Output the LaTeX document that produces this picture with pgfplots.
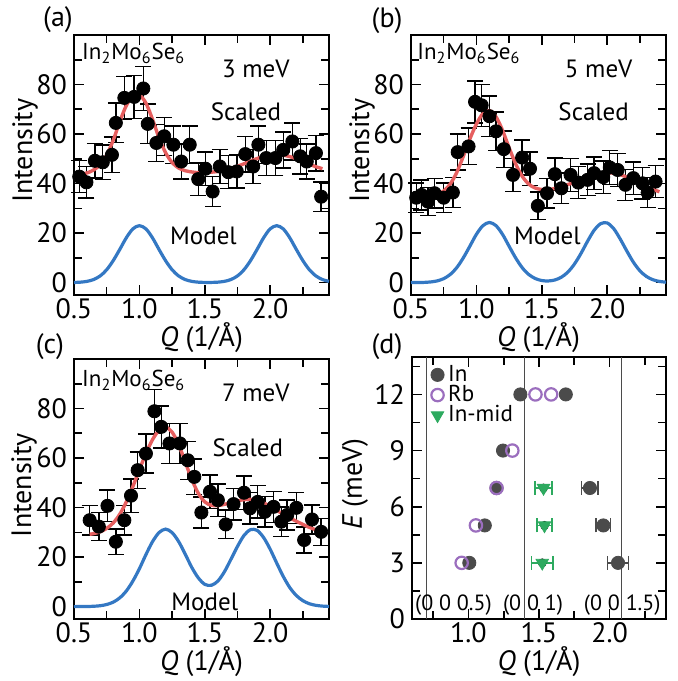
\documentclass[border=0pt]{standalone}
\usepackage{fontspec}
\setmainfont{PT Sans}
\usepackage{pgfplots}
\pgfplotsset{compat=1.18}
\definecolor{fitred}{RGB}{230,95,95}
\definecolor{modelblue}{RGB}{52,120,195}
\definecolor{ingray}{RGB}{75,75,75}
\definecolor{rbpurple}{RGB}{155,110,190}
\definecolor{midgreen}{RGB}{45,170,95}
\newcommand{\ft}{\fontsize{14}{16}\selectfont}
\newcommand{\fs}{\fontsize{12.5}{14}\selectfont}
\newcommand{\fsm}{\fontsize{11.5}{13}\selectfont}
\newcommand{\chem}{In\textsubscript{2}Mo\textsubscript{6}Se\textsubscript{6}}
\pgfplotsset{
  base/.style={scale only axis, width=127.5pt, height=130pt,
    tick align=inside, major tick length=5pt, minor tick length=4pt,
    axis line style={line width=1pt}, every tick/.style={line width=0.8pt, black},
    tick label style={font=\ft},
    xticklabel style={inner sep=1.5pt},
    /pgf/number format/assume math mode=true,
    xlabel={\textit{Q} (1/Å)},
    every axis x label/.style={at={(axis description cs:0.5,0)}, anchor=center, yshift=-21.5pt, font=\ft},
    clip=false},
  panel/.style={base, xmin=0.5, xmax=2.45, ymin=-5, ymax=100,
    xtick={0.5,1.0,1.5,2.0}, xticklabels={0.5,1.0,1.5,2.0},
    minor xtick={0.75,1.25,1.75,2.25},
    ytick={0,20,40,60,80}, minor ytick={10,30,50,70,90},
    ylabel=Intensity},
  dat/.style={only marks, mark=*, mark size=3.3pt, black,
    error bars/.cd, y dir=both, y explicit, error mark=|,
    error bar style={line width=0.7pt, black},
    error mark options={line width=0.7pt, mark size=4pt, black}},
  fit/.style={no marks, fitred, line width=1.7pt, smooth},
  model/.style={no marks, modelblue, line width=1.6pt, smooth},
}
\begin{document}
\begin{tikzpicture}
\useasboundingbox (0,0) rectangle (338.5pt,340.5pt);
% ---------------- (a)
\begin{axis}[panel, at={(37pt,193pt)}, anchor=south west,
  every axis y label/.style={at={(axis description cs:-0.192,0.555)}, rotate=90, anchor=center, font=\ft}]
\addplot[model] coordinates {(0.50,0.06)(0.55,0.19)(0.60,0.51)(0.65,1.24)(0.70,2.7)(0.75,5.2)(0.80,8.9)(0.85,13.4)(0.90,18.1)(0.95,21.7)(1.00,23)(1.05,21.7)(1.10,18.1)(1.15,13.4)(1.20,8.9)(1.25,5.2)(1.30,2.7)(1.35,1.24)(1.40,0.51)(1.45,0.19)(1.50,0.08)(1.55,0.08)(1.60,0.19)(1.65,0.51)(1.70,1.24)(1.75,2.7)(1.80,5.2)(1.85,8.9)(1.90,13.4)(1.95,18.1)(2.00,21.7)(2.05,23)(2.10,21.7)(2.15,18.1)(2.20,13.4)(2.25,8.9)(2.30,5.2)(2.35,2.7)(2.40,1.24)(2.45,0.51)};
\addplot[dat] table[x=x,y=y,y error=e] {
x y e
0.54 42.8 6.5
0.595 40.5 6.4
0.66 49.2 7.0
0.72 48.6 7.0
0.79 51.6 7.2
0.82 64.5 8.0
0.885 74.6 8.6
0.96 75.0 8.7
1.03 78.4 8.9
1.064 64.1 8.0
1.13 56.4 7.5
1.19 59.1 7.7
1.26 55.7 7.5
1.32 48.9 7.0
1.385 55.7 7.5
1.45 41.8 6.5
1.505 46.0 6.8
1.56 36.8 6.1
1.615 46.9 6.8
1.68 44.6 6.7
1.745 44.9 6.7
1.81 51.9 7.2
1.87 46.9 6.8
1.91 55.7 7.5
1.97 50.3 7.1
2.04 50.3 7.1
2.10 53.6 7.3
2.17 57.0 7.5
2.23 51.0 7.1
2.28 48.9 7.0
2.35 52.3 7.2
2.39 34.7 5.9
};
\addplot[fit] coordinates {(0.50,43.6)(0.55,43.8)(0.60,44.3)(0.65,45.5)(0.70,47.6)(0.75,51.5)(0.80,57.5)(0.85,65.0)(0.90,71.5)(0.95,75.3)(1.00,75.8)(1.05,72.5)(1.10,66.0)(1.15,58.5)(1.20,52.5)(1.25,48.5)(1.30,46.3)(1.35,45.2)(1.40,44.7)(1.45,44.4)(1.50,44.4)(1.55,44.6)(1.60,44.9)(1.65,45.4)(1.70,46.1)(1.75,47.0)(1.80,48.0)(1.85,49.1)(1.90,50.1)(1.95,50.9)(2.00,51.5)(2.05,51.7)(2.10,51.5)(2.15,50.9)(2.20,50.0)(2.25,48.9)(2.30,47.8)(2.35,46.8)(2.40,46.0)};
\node[anchor=west, font=\fsm, inner sep=0pt] at (axis cs:0.56,92.5) {\chem};
\node[font=\fs] at (axis cs:1.89,86.5) {3 meV};
\node[font=\fs] at (axis cs:1.815,69) {Scaled};
\node[font=\fs] at (axis cs:1.49,19) {Model};
\end{axis}
\node[font=\ft] at (29pt,330.5pt) {(a)};
% ---------------- (b)
\begin{axis}[panel, at={(205.5pt,193pt)}, anchor=south west,
  every axis y label/.style={at={(axis description cs:-0.192,0.555)}, rotate=90, anchor=center, font=\ft}]
\addplot[model] coordinates {(0.50,0.01)(0.55,0.03)(0.60,0.09)(0.65,0.27)(0.70,0.69)(0.75,1.6)(0.80,3.29)(0.85,6.06)(0.90,10.0)(0.95,14.7)(1.00,19.5)(1.05,23.0)(1.10,24.3)(1.15,23.0)(1.20,19.5)(1.25,14.7)(1.30,10.0)(1.35,6.06)(1.40,3.3)(1.45,1.65)(1.50,0.84)(1.55,0.67)(1.60,1.07)(1.65,2.19)(1.70,4.27)(1.75,7.5)(1.80,11.8)(1.85,16.7)(1.90,21.1)(1.95,23.8)(2.00,24.1)(2.05,21.8)(2.10,17.6)(2.15,12.8)(2.20,8.3)(2.25,4.8)(2.30,2.5)(2.35,1.16)(2.40,0.48)(2.45,0.18)};
\addplot[dat] table[x=x,y=y,y error=e] {
x y e
0.54 34.3 5.9
0.58 35.4 6.0
0.63 32.7 5.7
0.68 36.1 6.0
0.75 34.3 5.9
0.82 36.4 6.0
0.857 52.7 7.3
0.94 55.0 7.4
0.99 73.0 8.5
1.04 71.6 8.5
1.10 67.2 8.2
1.15 61.1 7.8
1.21 53.9 7.3
1.28 43.5 6.6
1.35 50.5 7.1
1.41 46.0 6.8
1.47 31.0 5.6
1.54 36.1 6.0
1.60 43.8 6.6
1.65 38.1 6.2
1.72 43.5 6.6
1.78 40.4 6.4
1.85 41.5 6.4
1.90 44.2 6.6
1.97 42.6 6.5
2.02 46.5 6.8
2.08 45.5 6.7
2.14 39.5 6.3
2.20 42.2 6.5
2.27 40.1 6.3
2.31 36.4 6.0
2.37 40.8 6.4
};
\addplot[fit] coordinates {(0.50,34.0)(0.55,34.1)(0.60,34.3)(0.65,34.7)(0.70,35.5)(0.75,37.0)(0.80,39.8)(0.85,44.5)(0.90,51.0)(0.95,58.0)(1.00,64.0)(1.05,68.3)(1.10,69.5)(1.15,67.0)(1.20,61.5)(1.25,54.5)(1.30,48.0)(1.35,43.0)(1.40,39.8)(1.45,38.2)(1.50,37.6)(1.55,37.6)(1.60,38.0)(1.65,38.7)(1.70,39.6)(1.75,40.6)(1.80,41.6)(1.85,42.6)(1.90,43.4)(1.95,44.0)(2.00,44.3)(2.05,44.2)(2.10,43.6)(2.15,42.6)(2.20,41.4)(2.25,40.0)(2.30,38.7)(2.35,37.6)(2.40,36.7)};
\node[anchor=west, font=\fsm, inner sep=0pt] at (axis cs:0.546,92.5) {\chem};
\node[font=\fs] at (axis cs:1.935,86.5) {5 meV};
\node[font=\fs] at (axis cs:1.897,69) {Scaled};
\node[font=\fs] at (axis cs:1.543,19) {Model};
\end{axis}
\node[font=\ft] at (193.5pt,330pt) {(b)};
% ---------------- (c)
\begin{axis}[panel, at={(37pt,31pt)}, anchor=south west,
  every axis y label/.style={at={(axis description cs:-0.196,0.515)}, rotate=90, anchor=center, font=\ft}]
\addplot[model] coordinates {(0.50,0.005)(0.55,0.02)(0.60,0.05)(0.65,0.14)(0.70,0.36)(0.75,0.85)(0.80,1.81)(0.85,3.54)(0.90,6.3)(0.95,10.3)(1.00,15.3)(1.05,21.0)(1.10,26.2)(1.15,29.9)(1.20,31.3)(1.25,29.9)(1.30,26.3)(1.35,21.25)(1.40,15.9)(1.45,11.65)(1.50,9.0)(1.55,8.6)(1.60,10.3)(1.65,14.05)(1.70,19.1)(1.75,24.3)(1.80,28.75)(1.85,31.1)(1.90,30.8)(1.95,27.9)(2.00,23.2)(2.05,17.6)(2.10,12.2)(2.15,7.7)(2.20,4.5)(2.25,2.4)(2.30,1.16)(2.35,0.52)(2.40,0.21)(2.45,0.08)};
\addplot[dat] table[x=x,y=y,y error=e] {
x y e
0.62 34.9 5.9
0.69 32.3 5.7
0.756 40.7 6.4
0.82 26.2 5.1
0.885 34.9 5.9
0.936 44.8 6.7
0.987 55.1 7.4
1.05 61.8 7.9
1.115 78.9 8.9
1.167 72.6 8.5
1.23 65.9 8.1
1.31 65.9 8.1
1.37 59.1 7.7
1.42 52.4 7.2
1.474 38.0 6.2
1.54 46.4 6.8
1.60 43.0 6.6
1.66 33.2 5.8
1.72 41.4 6.4
1.80 46.0 6.8
1.846 39.7 6.3
1.905 42.3 6.5
1.96 38.3 6.2
2.026 40.3 6.3
2.085 34.3 5.9
2.13 37.0 6.1
2.20 39.9 6.3
2.26 26.9 5.2
2.32 35.2 5.9
2.39 30.2 5.5
};
\addplot[fit] coordinates {(0.62,29.2)(0.65,29.5)(0.70,30.2)(0.75,31.6)(0.80,33.8)(0.85,37.3)(0.90,42.3)(0.95,48.5)(1.00,55.3)(1.05,61.8)(1.10,67.4)(1.15,71.2)(1.20,72.5)(1.25,70.5)(1.30,65.5)(1.35,58.5)(1.40,51.5)(1.45,45.8)(1.50,42.3)(1.55,40.9)(1.60,40.8)(1.65,41.3)(1.70,42.0)(1.75,42.7)(1.80,43.2)(1.85,43.3)(1.90,42.9)(1.95,41.9)(2.00,40.5)(2.05,38.9)(2.10,37.3)(2.15,35.8)(2.20,34.5)(2.25,33.2)(2.30,32.0)(2.35,31.0)(2.38,30.4)};
\node[anchor=west, font=\fsm, inner sep=0pt] at (axis cs:0.56,91.4) {\chem};
\node[font=\fs] at (axis cs:1.89,86.2) {7 meV};
\node[font=\fs] at (axis cs:1.83,64) {Scaled};
\node[font=\fs] at (axis cs:1.50,1.9) {Model};
\end{axis}
\node[font=\ft] at (25pt,167pt) {(c)};
% ---------------- (d)
\begin{axis}[base, at={(206pt,31pt)}, anchor=south west, width=127pt, height=131pt,
  xmin=0.6, xmax=2.4, ymin=0, ymax=14,
  xtick={1.0,1.5,2.0}, xticklabels={1.0,1.5,2.0}, minor xtick={0.75,1.25,1.75,2.25},
  ytick={0,3,6,9,12}, minor ytick={1.5,4.5,7.5,10.5,13.5},
  ylabel={\textit{E} (meV)},
  every axis y label/.style={at={(axis description cs:-0.224,0.515)}, rotate=90, anchor=center, font=\ft},
  legend style={at={(0.073,0.985)}, anchor=north west, draw=none, fill=none,
    font=\fsm, inner sep=0pt, row sep=-3.5pt},
  legend cell align=left,
  legend image code/.code={\draw[#1] plot coordinates {(0.1cm,0cm)};}]
\addplot[forget plot, no marks, ingray, line width=0.6pt] coordinates {(0.70,0)(0.70,14)};
\addplot[forget plot, no marks, ingray, line width=0.6pt] coordinates {(1.398,0)(1.398,14)};
\addplot[forget plot, no marks, ingray, line width=0.6pt] coordinates {(2.086,0)(2.086,14)};
\addplot[forget plot, only marks, mark=none, error bars/.cd, x dir=both, x explicit, error mark=|,
  error bar style={line width=0.8pt, ingray}, error mark options={line width=0.8pt, ingray, mark size=3.5pt}]
  table[x=x,y=y,x error=e] {
x y e
1.861 7 0.059
1.956 5 0.05
2.06 3 0.074
};
\addplot[forget plot, only marks, mark=none, error bars/.cd, x dir=both, x explicit, error mark=|,
  error bar style={line width=0.8pt, midgreen}, error mark options={line width=0.8pt, midgreen, mark size=3.5pt}]
  table[x=x,y=y,x error=e] {
x y e
1.532 7 0.06
1.539 5 0.055
1.523 3 0.075
};
\addplot[only marks, mark=*, mark size=3.3pt, ingray] coordinates {(1.368,12)(1.69,12)(1.245,9)(1.199,7)(1.861,7)(1.116,5)(1.956,5)(1.006,3)(2.06,3)};
\addlegendentry{In}
\addplot[only marks, mark=o, mark size=3.1pt, rbpurple, line width=1.1pt] coordinates {(1.475,12)(1.586,12)(1.311,9)(1.199,7)(1.053,5)(0.952,3)};
\addlegendentry{Rb}
\addplot[only marks, mark=triangle*, mark options={rotate=180}, mark size=3.6pt, midgreen] coordinates {(1.532,7)(1.539,5)(1.523,3)};
\addlegendentry{In-mid}
\node[font=\fontsize{11}{12}\selectfont] at (axis cs:0.894,0.72) {(0 0 0.5)};
\node[font=\fontsize{11}{12}\selectfont] at (axis cs:1.458,0.72) {(0 0 1)};
\node[font=\fontsize{11}{12}\selectfont] at (axis cs:2.09,0.72) {(0 0 1.5)};
\end{axis}
\node[font=\ft] at (193.5pt,167pt) {(d)};
\end{tikzpicture}
\end{document}
